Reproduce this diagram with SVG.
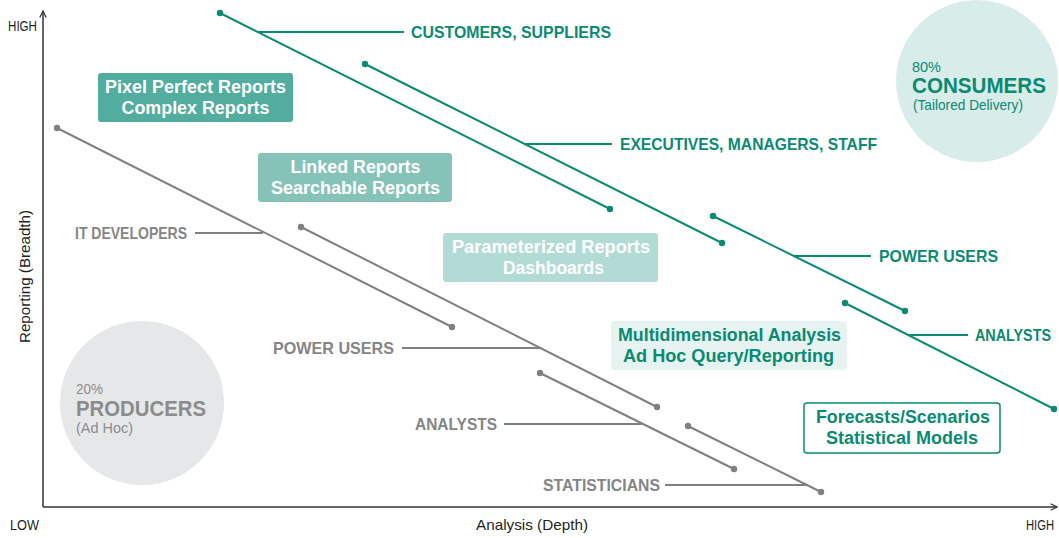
<svg xmlns="http://www.w3.org/2000/svg" width="1059" height="538" viewBox="0 0 1059 538">
<defs>
<marker id="arr" viewBox="0 0 10 10" refX="9" refY="5" markerWidth="8" markerHeight="8" orient="auto" markerUnits="userSpaceOnUse">
<path d="M1,1 L9,5 L1,9" fill="none" stroke="#333" stroke-width="1.5"/>
</marker>
<style>
text{font-family:"Liberation Sans",Arial,sans-serif}
.ax{fill:#231f20;font-size:15px}
.t{stroke:#0b8a72;stroke-width:2;fill:none}
.g{stroke:#808080;stroke-width:2;fill:none}
.td{fill:#0b8a72}
.gd{fill:#808080}
.tl{fill:#0b8a72;font-size:16.5px;font-weight:bold}
.gl{fill:#858585;font-size:16.5px;font-weight:bold}
.bx{font-size:18px;font-weight:bold;text-anchor:middle}
</style>
</defs>
<rect width="1059" height="538" fill="#fff"/>
<g id="circles">
<g id="consumers">
<circle cx="977" cy="81" r="81" fill="#d8ece9"/>
<text x="912" y="72" fill="#0b8a72" font-size="15" textLength="29" lengthAdjust="spacingAndGlyphs">80%</text>
<text x="912" y="93" fill="#0b8a72" font-size="22" font-weight="bold" textLength="134" lengthAdjust="spacingAndGlyphs">CONSUMERS</text>
<text x="913" y="110" fill="#0b8a72" font-size="15" textLength="110" lengthAdjust="spacingAndGlyphs">(Tailored Delivery)</text>
</g>
<g id="producers">
<circle cx="142" cy="403" r="82" fill="#e6e7e8"/>
<text x="76" y="394" fill="#8c8c8c" font-size="15" textLength="27" lengthAdjust="spacingAndGlyphs">20%</text>
<text x="76" y="416" fill="#8c8c8c" font-size="22" font-weight="bold" textLength="130" lengthAdjust="spacingAndGlyphs">PRODUCERS</text>
<text x="76" y="433" fill="#8c8c8c" font-size="15" textLength="57" lengthAdjust="spacingAndGlyphs">(Ad Hoc)</text>
</g>
</g>
<g id="axes">
<line x1="43" y1="507" x2="43" y2="11" stroke="#333" stroke-width="1.5" marker-end="url(#arr)"/>
<line x1="43" y1="507" x2="1057" y2="507" stroke="#333" stroke-width="1.5" marker-end="url(#arr)"/>
<text class="ax" x="8" y="31" textLength="29" lengthAdjust="spacingAndGlyphs">HIGH</text>
<text class="ax" x="10" y="530" textLength="29" lengthAdjust="spacingAndGlyphs">LOW</text>
<text class="ax" transform="translate(1026,530) scale(0.75,1)" x="0" y="0">HIGH</text>
<text class="ax" x="476" y="530" textLength="112" lengthAdjust="spacingAndGlyphs">Analysis (Depth)</text>
<text class="ax" transform="translate(30,343) rotate(-90)" x="0" y="0" textLength="133" lengthAdjust="spacingAndGlyphs">Reporting (Breadth)</text>
</g>
<g id="boxes">
<g id="pixel-perfect">
<rect x="98" y="73" width="195" height="49" rx="3" fill="#52ad9e"/>
<text class="bx" x="195.5" y="93" fill="#fff" textLength="181" lengthAdjust="spacingAndGlyphs">Pixel Perfect Reports</text>
<text class="bx" x="195.5" y="114" fill="#fff" textLength="148" lengthAdjust="spacingAndGlyphs">Complex Reports</text>
</g>
<g id="linked">
<rect x="258" y="153" width="194" height="49" rx="3" fill="#85c3b8"/>
<text class="bx" x="355.5" y="173" fill="#fff" textLength="130" lengthAdjust="spacingAndGlyphs">Linked Reports</text>
<text class="bx" x="355.5" y="194" fill="#fff" textLength="169" lengthAdjust="spacingAndGlyphs">Searchable Reports</text>
</g>
<g id="parameterized">
<rect x="443" y="233" width="215" height="49" rx="3" fill="#b3dbd6"/>
<text class="bx" x="551" y="253" fill="#fff" textLength="198" lengthAdjust="spacingAndGlyphs">Parameterized Reports</text>
<text class="bx" x="553.5" y="274" fill="#fff" textLength="101" lengthAdjust="spacingAndGlyphs">Dashboards</text>
</g>
<g id="multidimensional">
<rect x="611" y="321" width="236" height="49" rx="3" fill="#e6f3f1"/>
<text class="bx" x="729.5" y="341" fill="#0b8a72" textLength="223" lengthAdjust="spacingAndGlyphs">Multidimensional Analysis</text>
<text class="bx" x="728.5" y="362" fill="#0b8a72" textLength="211" lengthAdjust="spacingAndGlyphs">Ad Hoc Query/Reporting</text>
</g>
<g id="forecasts">
<rect x="804" y="403" width="196" height="50" rx="3" fill="#fff" stroke="#0b8a72" stroke-width="1.5"/>
<text class="bx" x="903" y="423" fill="#0b8a72" textLength="174" lengthAdjust="spacingAndGlyphs">Forecasts/Scenarios</text>
<text class="bx" x="902" y="444" fill="#0b8a72" textLength="152" lengthAdjust="spacingAndGlyphs">Statistical Models</text>
</g>
</g>
<g id="connectors">
<path class="t" d="M220,13 L610,209 M258,32 H404"/>
<path class="t" d="M365,64 L722,243 M525,144 H612"/>
<path class="t" d="M713,216 L905,311 M794,256 H871"/>
<path class="t" d="M845,303 L1054,409 M908,335 H968"/>
<circle class="td" cx="220" cy="13" r="3.2"/><circle class="td" cx="610" cy="209" r="3.2"/>
<circle class="td" cx="365" cy="64" r="3.2"/><circle class="td" cx="722" cy="243" r="3.2"/>
<circle class="td" cx="713" cy="216" r="3.2"/><circle class="td" cx="905" cy="311" r="3.2"/>
<circle class="td" cx="845" cy="303" r="3.2"/><circle class="td" cx="1054" cy="409" r="3.2"/>
<path class="g" d="M57,128 L452,327 M195,233 H263"/>
<path class="g" d="M301,227 L657,407 M402,348 H540"/>
<path class="g" d="M540,373 L734,469 M504,424 H643"/>
<path class="g" d="M688,426 L821,492 M665,485 H807"/>
<circle class="gd" cx="57" cy="128" r="3.2"/><circle class="gd" cx="452" cy="327" r="3.2"/>
<circle class="gd" cx="301" cy="227" r="3.2"/><circle class="gd" cx="657" cy="407" r="3.2"/>
<circle class="gd" cx="540" cy="373" r="3.2"/><circle class="gd" cx="734" cy="469" r="3.2"/>
<circle class="gd" cx="688" cy="426" r="3.2"/><circle class="gd" cx="821" cy="492" r="3.2"/>
</g>
<g id="labels">
<text class="tl" x="411" y="38" textLength="200" lengthAdjust="spacingAndGlyphs">CUSTOMERS, SUPPLIERS</text>
<text class="tl" x="620" y="150" textLength="257" lengthAdjust="spacingAndGlyphs">EXECUTIVES, MANAGERS, STAFF</text>
<text class="tl" x="879" y="262" textLength="119" lengthAdjust="spacingAndGlyphs">POWER USERS</text>
<text class="tl" transform="translate(975,341) scale(0.87,1)" x="0" y="0">ANALYSTS</text>
<text class="gl" x="75" y="239" textLength="112" lengthAdjust="spacingAndGlyphs">IT DEVELOPERS</text>
<text class="gl" x="273" y="354" textLength="121" lengthAdjust="spacingAndGlyphs">POWER USERS</text>
<text class="gl" x="415" y="430" textLength="82" lengthAdjust="spacingAndGlyphs">ANALYSTS</text>
<text class="gl" x="543" y="491" textLength="117" lengthAdjust="spacingAndGlyphs">STATISTICIANS</text>
</g>
</svg>
